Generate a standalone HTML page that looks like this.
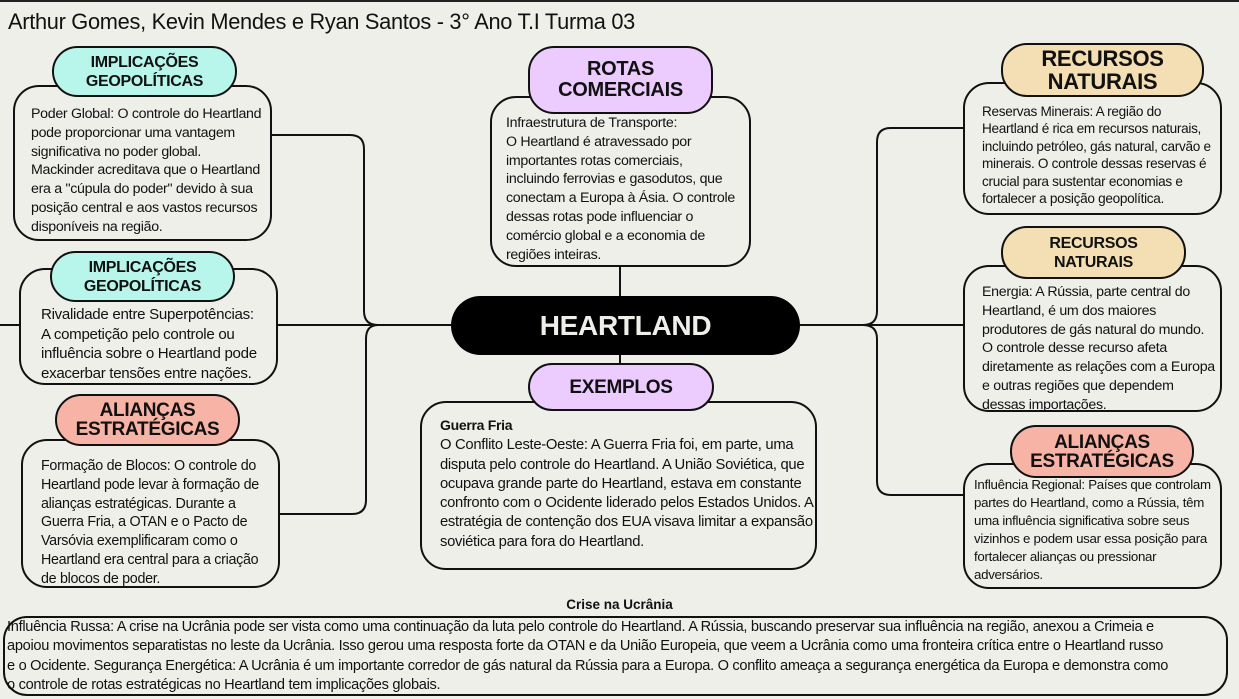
<!DOCTYPE html>
<html><head><meta charset="utf-8"><style>
*{margin:0;padding:0;box-sizing:border-box}
body{width:1239px;height:697px;background:#efefea;position:relative;overflow:hidden;font-family:"Liberation Sans",sans-serif;color:#111;border-top:2px solid #222}
.a{position:absolute}
.box{position:absolute;border:2px solid #111;border-radius:26px;background:#efefea;font-size:14px;line-height:19px;letter-spacing:-0.3px;white-space:nowrap}
.pill{position:absolute;border:2px solid #111;border-radius:26px;font-weight:bold;text-align:center;display:flex;align-items:center;justify-content:center;line-height:19px;letter-spacing:-0.3px}
.t{background:#b8f5ea;font-size:16px}
.p{background:#eccbff;font-size:20px}
.o{background:#f3dfb3}
.s{background:#f7b4a6;font-size:19px}
</style></head><body>
<svg class="a" style="left:0;top:0" width="1239" height="697" fill="none" stroke="#111" stroke-width="2">
<path d="M272 133 H350 Q364 133 364 147 V309 Q364 323 378 323"/>
<path d="M0 323 H451"/>
<path d="M378 323 Q366 323 366 337 V498 Q366 512 352 512 H280"/>
<path d="M620 265 V294"/><path d="M620 353 V361"/>
<path d="M800 323 H963"/>
<path d="M963 126 H891 Q877 126 877 140 V309 Q877 323 863 323"/>
<path d="M863 323 Q877 323 877 337 V479 Q877 493 891 493 H963"/>
</svg>
<div class="a" style="left:8px;top:7px;font-size:21.8px;letter-spacing:-0.3px">Arthur Gomes, Kevin Mendes e Ryan Santos - 3° Ano T.I Turma 03</div>

<div class="box" style="left:13px;top:83px;width:259px;height:156px;padding:18px 0 0 16px;font-size:14.2px;line-height:18.8px">Poder Global: O controle do Heartland<br>pode proporcionar uma vantagem<br>significativa no poder global.<br>Mackinder acreditava que o Heartland<br>era a "cúpula do poder" devido à sua<br>posição central e aos vastos recursos<br>disponíveis na região.</div>
<div class="pill t" style="left:52px;top:44px;width:185px;height:51px">IMPLICAÇÕES<br>GEOPOLÍTICAS</div>

<div class="box" style="left:19px;top:266px;width:259px;height:117px;padding:35px 0 0 20px;font-size:15.1px;line-height:19.5px">Rivalidade entre Superpotências:<br>A competição pelo controle ou<br>influência sobre o Heartland pode<br>exacerbar tensões entre nações.</div>
<div class="pill t" style="left:50px;top:249px;width:185px;height:51px">IMPLICAÇÕES<br>GEOPOLÍTICAS</div>

<div class="box" style="left:21px;top:437px;width:259px;height:149px;padding:16px 0 0 18px;font-size:14.3px;line-height:18.8px">Formação de Blocos: O controle do<br>Heartland pode levar à formação de<br>alianças estratégicas. Durante a<br>Guerra Fria, a OTAN e o Pacto de<br>Varsóvia exemplificaram como o<br>Heartland era central para a criação<br>de blocos de poder.</div>
<div class="pill s" style="left:55px;top:392px;width:185px;height:52px">ALIANÇAS<br>ESTRATÉGICAS</div>

<div class="box" style="left:490px;top:94px;width:261px;height:171px;padding:16px 0 0 14px;font-size:14.2px;line-height:18.8px">Infraestrutura de Transporte:<br>O Heartland é atravessado por<br>importantes rotas comerciais,<br>incluindo ferrovias e gasodutos, que<br>conectam a Europa à Ásia. O controle<br>dessas rotas pode influenciar o<br>comércio global e a economia de<br>regiões inteiras.</div>
<div class="pill p" style="left:528px;top:44px;width:185px;height:68px;line-height:21px">ROTAS<br>COMERCIAIS</div>

<div class="pill" style="left:451px;top:294px;width:349px;height:59px;background:#000;color:#efefea;font-size:28px;border:none;border-radius:30px">HEARTLAND</div>

<div class="box" style="left:420px;top:399px;width:397px;height:169px;padding:13px 0 0 18px;font-size:14.8px;line-height:19.3px"><b style="font-size:14px">Guerra Fria</b><br>O Conflito Leste-Oeste: A Guerra Fria foi, em parte, uma<br>disputa pelo controle do Heartland. A União Soviética, que<br>ocupava grande parte do Heartland, estava em constante<br>confronto com o Ocidente liderado pelos Estados Unidos. A<br>estratégia de contenção dos EUA visava limitar a expansão<br>soviética para fora do Heartland.</div>
<div class="pill p" style="left:528px;top:361px;width:186px;height:48px;font-size:19px">EXEMPLOS</div>

<div class="box" style="left:963px;top:80px;width:259px;height:133px;padding:19px 0 0 17px;font-size:13.6px;line-height:17.4px">Reservas Minerais: A região do<br>Heartland é rica em recursos naturais,<br>incluindo petróleo, gás natural, carvão e<br>minerais. O controle dessas reservas é<br>crucial para sustentar economias e<br>fortalecer a posição geopolítica.</div>
<div class="pill o" style="left:1001px;top:41px;width:203px;height:54px;font-size:22px;line-height:23px">RECURSOS<br>NATURAIS</div>

<div class="box" style="left:963px;top:263px;width:259px;height:147px;padding:16px 0 0 17px;font-size:14.2px;line-height:18.8px">Energia: A Rússia, parte central do<br>Heartland, é um dos maiores<br>produtores de gás natural do mundo.<br>O controle desse recurso afeta<br>diretamente as relações com a Europa<br>e outras regiões que dependem<br>dessas importações.</div>
<div class="pill o" style="left:1001px;top:224px;width:185px;height:53px;font-size:16px">RECURSOS<br>NATURAIS</div>

<div class="box" style="left:963px;top:461px;width:259px;height:126px;padding:11px 0 0 9px;font-size:13.3px;line-height:18px">Influência Regional: Países que controlam<br>partes do Heartland, como a Rússia, têm<br>uma influência significativa sobre seus<br>vizinhos e podem usar essa posição para<br>fortalecer alianças ou pressionar<br>adversários.</div>
<div class="pill s" style="left:1010px;top:423px;width:184px;height:53px">ALIANÇAS<br>ESTRATÉGICAS</div>

<div class="a" style="left:0;width:1239px;top:595px;text-align:center;font-weight:bold;font-size:13.5px">Crise na Ucrânia</div>
<div class="box" style="left:3px;top:614px;width:1225px;height:80px;padding:0 0 0 2px;border-radius:24px;font-size:14.6px;line-height:19.3px">Influência Russa: A crise na Ucrânia pode ser vista como uma continuação da luta pelo controle do Heartland. A Rússia, buscando preservar sua influência na região, anexou a Crimeia e<br>apoiou movimentos separatistas no leste da Ucrânia. Isso gerou uma resposta forte da OTAN e da União Europeia, que veem a Ucrânia como uma fronteira crítica entre o Heartland russo<br>e o Ocidente. Segurança Energética: A Ucrânia é um importante corredor de gás natural da Rússia para a Europa. O conflito ameaça a segurança energética da Europa e demonstra como<br>o controle de rotas estratégicas no Heartland tem implicações globais.</div>
</body></html>
